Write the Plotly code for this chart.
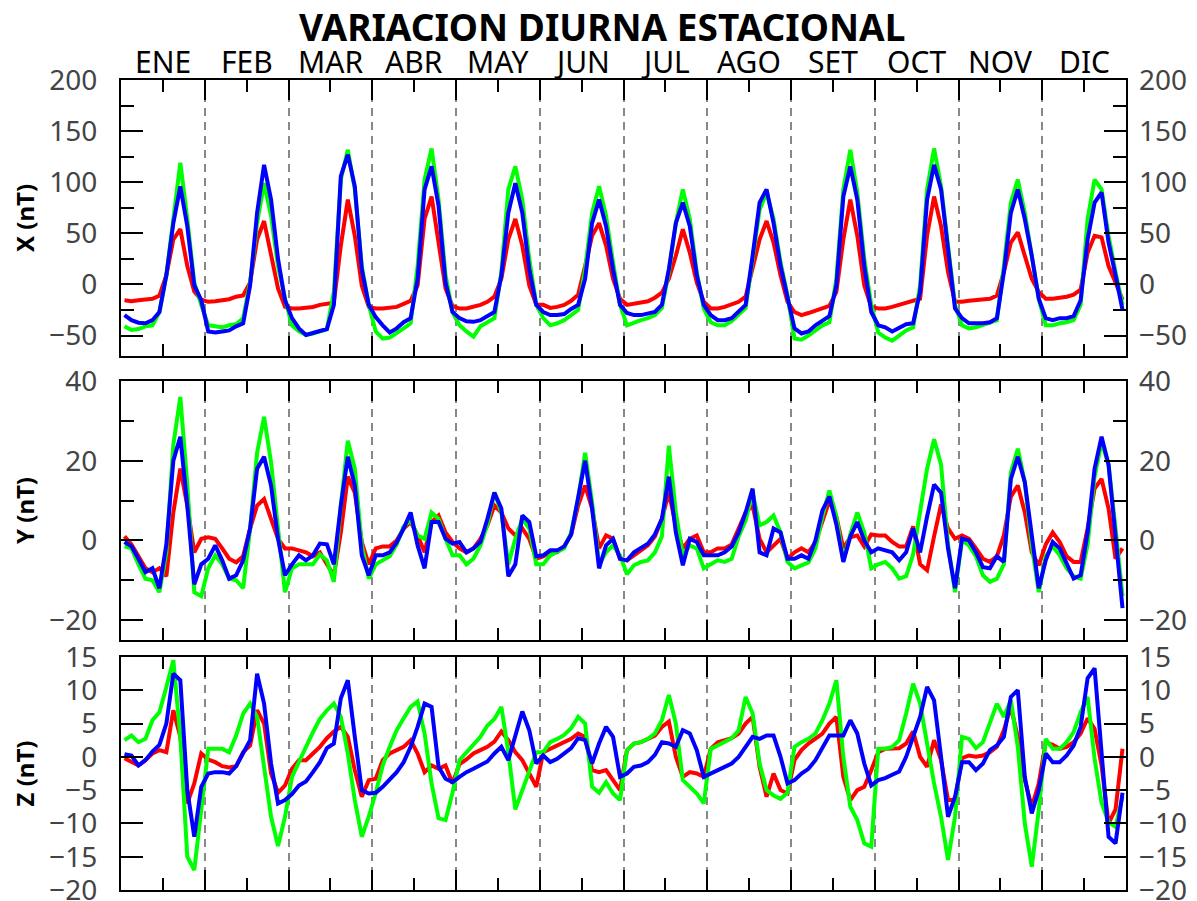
import plotly.graph_objects as go

MONTHS = ["ENE", "FEB", "MAR", "ABR", "MAY", "JUN", "JUL", "AGO", "SET", "OCT", "NOV", "DIC"]
HOURS = list(range(1, 24, 2))  # odd UT hours sampled within each month

# ---------------- X component (nT), 12 values per month ----------------
X_RED = [
    -15.5, -16.5, -15.5, -14.6, -14, -11, 9, 44, 54, 18, -7, -15,
    -17, -16.5, -15.5, -14.5, -12, -10.7, 2, 44, 62, 28, -4, -22,
    -23.6, -23.6, -23, -22, -20, -19, -18, 38, 83, 47.6, -1, -22,
    -23.6, -23.6, -23, -22, -19, -16, -1, 64, 86, 44, -4, -21,
    -23.6, -23.6, -22, -20, -17, -12, 5.5, 44, 64, 38, -1, -20,
    -20, -23, -22, -20, -16, -10, 18, 47.6, 60, 38, 5.5, -14,
    -20, -18.5, -17, -16.5, -13, -8, 5.5, 28, 54, 31, 2, -17,
    -23.6, -23.6, -22, -20, -17, -12, 15, 44, 62, 41, 9, -17,
    -27, -30, -28, -26, -24, -21, -7.4, 44, 83, 47.6, -1, -22,
    -23.6, -23.6, -22, -20, -18, -17, -14, 47.6, 86, 57, 12, -17,
    -17, -16, -15.5, -15, -14, -11, 12, 41, 51, 28, 5.5, -7.4,
    -14, -14, -13, -12, -10, -5, 31, 47.6, 46, 18, 2, -15,
]
X_GREEN = [
    -41, -44.6, -43.7, -41, -40, -27, 9, 64, 119, 64, 2, -20,
    -40, -41, -42, -40, -39, -33, 2, 60, 99, 67, 18, -14,
    -40, -46, -49.5, -48, -45.6, -43.7, -7.4, 102.6, 131.7, 93, 18, -20,
    -46, -53, -52, -48, -43, -38, 18, 102.6, 133, 83, 9, -27,
    -40, -46, -51, -41, -37, -33, 12, 93, 115.5, 83, 25, -20,
    -33, -40, -38, -35, -30, -25, 15, 70, 96, 67, 21.7, -20,
    -40, -37, -35, -33, -30, -23, 12, 60, 93, 64, 12, -23.6,
    -37, -40, -40, -36, -30, -23, 25, 73, 90, 64, 21.7, -10.7,
    -53, -54, -50, -45, -40, -37, 5.5, 93, 131.7, 90, 25, -20,
    -47, -52, -55, -50, -45, -42, -1, 93, 133, 96, 38, -20,
    -40, -43, -42, -40, -38, -35, 18, 80, 102.6, 70, 28, -14,
    -40, -40, -38, -37, -35, -20, 64, 102.6, 93, 47.6, 12, -20,
]
X_BLUE = [
    -30, -35, -37.5, -38, -35, -27, 9, 60, 96, 57, -1, -15.5,
    -46, -47, -46, -45, -41, -38, -1, 70, 117, 83, 25, -15.5,
    -33, -43, -49.5, -48, -45.6, -43.7, -20, 106, 127, 96, 15, -20,
    -32, -40, -47, -43, -37, -33, 5.5, 93, 115.5, 77, 2, -27,
    -33, -36, -36.6, -35, -31, -27, 9, 70, 99, 70, 15, -20,
    -27, -30, -30, -29, -24, -20, 5.5, 60, 83, 57, 15, -20,
    -28, -30, -30, -28.5, -27, -20, 15, 60, 80, 57, 9, -20,
    -30, -35, -35, -33, -27, -20, 28, 80, 93, 60, 18, -14,
    -43, -48, -46, -40, -35, -31, -1, 86, 115.5, 83, 18, -27,
    -40, -42, -46, -42, -39, -38, -7, 83, 117, 93, 31, -23.6,
    -33, -38, -38, -38, -37, -33, 12, 70, 93, 64, 28, -14,
    -33, -35, -33, -33, -31, -15.5, 44, 80, 90, 41, 9, -25,
]

# ---------------- Y component (nT) ----------------
Y_RED = [
    1, -1, -4, -7, -8, -7, -9, 7, 18, 8.75, -3, 0.4,
    0.8, 0.4, -2, -4.6, -5.5, -4, 3, 8.75, 10.4, 5.4, 0.4, -2,
    -2, -2.5, -3, -4, -3, -6, -8.75, 2, 16, 12, -0.4, -6,
    -2, -1.5, -1.5, 0, 3, 4.6, 1.25, -3, 4.6, 6.25, 2, -0.4,
    -2, -3, -2, 0.4, 3.75, 8.75, 7, 3, 1.25, 3, 0.4, -4.6,
    -4, -3, -3, -1.5, 1.5, 8.75, 13.75, 8, -2, 1.25, 0.4, -4.6,
    -5, -3.75, -2.5, -1.25, 1, 5.4, 12, 3.75, -2, 0.4, 1.25, -3,
    -3, -2, -2, -1, 3, 7, 8.75, 0.4, -3, -1.25, 0.4, -4.6,
    -3, -2, -3, -0.5, 5, 10, 6, -2, 0.8, 1.25, -1.5, 1.5,
    1.25, 1.25, -0.4, -1.5, -1.5, 3.5, -6, -7.5, 1, 9, 3, 0.4,
    1.25, 0.4, -2, -4.6, -5.4, -4, 1.25, 11, 13.75, 7, -3, -6.25,
    -1, 2, -0.4, -4, -5.4, -5.4, 3, 13, 15.4, 8, -4.6, -2,
]
Y_GREEN = [
    -1.5, -2, -6, -9.6, -10, -13, -3, 24, 36, 14, -13, -14,
    -7, -3.75, -6, -9.6, -10, -12, 3, 22, 31, 19.6, 3, -13,
    -7, -6, -6, -6, -3.5, -5, -10.4, 8.75, 25, 18, -1.25, -9.6,
    -6, -5, -4, -1, 3.5, 5, 1.25, 0.4, 7, 5.4, 0.4, -3.75,
    -3.75, -6, -4.6, -1.25, 4, 12, 7, -6, 0.4, 5.4, 3, -6,
    -6, -3.75, -3, -2, 2, 10.4, 22, 9.6, -6, -3, -1.25, -3.75,
    -8.5, -6.25, -5.4, -5, -3, 1, 23.75, 7, -3.75, -1.25, -2, -7,
    -6, -5, -5.4, -4.6, 1, 5, 12, 3.75, 4.6, 6.25, 2, -5.4,
    -7, -6.25, -5.5, -2, 6, 12.5, 6, -5, 1.5, 7, 2, -7,
    -6, -5.4, -7, -9.6, -9, -3.5, 7, 18, 25.4, 19, -1, -13,
    0, -1.25, -4, -8.75, -10.4, -9.6, -6, 17, 23, 14.6, -1.25, -13,
    -4, -1.5, -3.75, -7, -9, -9.6, -1, 16, 24.6, 19, 3, -14,
]
Y_BLUE = [
    -0.4, -1.5, -4.6, -8, -7, -12, -1, 20, 26, 8.75, -11, -6,
    -4.6, -1.25, -5, -9.6, -8.75, -5, 3, 18, 21, 13.75, 0.4, -8.75,
    -6, -3.75, -5, -3.75, -0.8, -1, -6, 8.75, 21, 13.75, -3.75, -8.75,
    -3.75, -3.75, -3, -0.5, 3, 7, -1.25, -7, 4.6, 4.6, 0.4, -0.8,
    -0.4, -3, -2, -0.4, 5.4, 12, 8, -9, -6, 6.25, 4.6, -4,
    -3.75, -2.5, -2.5, -1.5, 1.5, 10.4, 20, 8, -7, -1.25, 0.4, -4.6,
    -5, -3, -2, -0.8, 1.5, 5.4, 16, 2, -6.25, 0.4, -0.4, -3.75,
    -3.75, -3.75, -3, -1.5, 2, 7, 13, -3, -3.75, 3, 2, -4.6,
    -4.6, -3.75, -4.6, 0, 7.5, 11, 4, -5.4, 1, 4.6, 0, -3,
    -2, -2.5, -3, -5, -3, 3, -3, 6, 14, 12, -2, -12,
    0.4, 0, -3, -6.7, -7, -4, -5.4, 15.4, 21, 14.6, 0.4, -12,
    -5, -0.4, -2, -6, -9.6, -8.75, 2, 18, 26, 19, 2, -17,
]

# ---------------- Z component (nT) ----------------
Z_RED = [
    -0.2, -0.8, -1.3, -0.5, 0.5, 1, 0.7, 7, 3, -7, -4, 0.5,
    -0.4, -0.8, -1.4, -1.6, -1.4, 0.7, 1.7, 7, 5, -2.5, -5.4, -4.3,
    -1.8, -0.5, -0.5, 0.5, 1.5, 2.8, 3.8, 4.5, 3, -2, -6, -3.5,
    -3.3, -0.5, 0.5, 1, 1.5, 2.5, 0.5, -2.3, -1.3, -1.8, -1.3, -4,
    -1.1, -0.4, 0.5, 1, 1.5, 2.3, 3.8, 2.5, 0.7, -0.5, -2.5, -4.5,
    0.7, 1.2, 1.7, 2.2, 2.7, 3.5, 3, -2, -2.3, -2, -3.5, -5,
    1, 2, 2.2, 2.7, 3.2, 4.5, 5.3, 0, -3, -2.3, -2.5, -3,
    1.2, 2.2, 2.5, 2.8, 3.5, 5, 6, -1.5, -6, -2.5, -5, -5.5,
    -0.5, 1, 2, 2.7, 3.5, 5, 6, -3, -6.5, -5, -4.5, -2,
    0.7, 1.2, 1.2, 1.3, 2, 3.8, 0, -1.5, 2.5, -0.5, -6.5, -6.5,
    -0.2, 0.2, 0, 0.2, 0.7, 1.5, 4, 7.5, 3, -3.5, -7.5, -4,
    2.2, 1.8, 1.2, 1.5, 2.2, 3.5, 5.8, 4.2, -1.3, -10, -7.9, 1.2,
]
Z_GREEN = [
    2.5, 3.2, 2.2, 2.7, 5.5, 6.7, 10.5, 14.5, 3, -15, -17, -8,
    1.2, 1.2, 1.2, 0.7, 3.2, 6.5, 8, 6, -1, -9, -13.4, -9,
    -3, -0.7, 1.5, 3.7, 5.7, 7, 8, 6, 0.5, -6.5, -12, -9,
    -5.4, -1.3, 1.5, 4, 5.8, 7.5, 8.3, 3.5, -4, -9.2, -9.5, -5.4,
    -0.5, 0.7, 1.7, 3, 4.7, 5.7, 7.5, 0.7, -7.9, -5, -2.3, 0.7,
    0.7, 2.2, 2.7, 3.3, 4.3, 6, 5, -4.5, -5.4, -3.8, -5.5, -6.5,
    1, 2, 2.2, 2.7, 3.5, 5.5, 9.3, 5, -3.5, -4.5, -5.5, -7,
    1.2, 1.7, 2.2, 2.8, 4, 9, 6.5, -1, -5, -5.8, -6.3, -5.4,
    1.5, 2.2, 2.7, 3.5, 5.5, 8, 11.5, 0, -7.5, -9.5, -13, -13.5,
    1.2, 1.2, 1.5, 2.5, 6.5, 11, 8, 2, -4, -9, -15.5, -9,
    3, 2.7, 1.3, 2.2, 5, 8, 6, 8.5, 1.5, -10, -16.5, -8,
    2.7, 1.2, 1.2, 2.2, 3.7, 6.7, 9, -0.3, -6.9, -9.8, -10.5, -6,
]
Z_BLUE = [
    0.4, 0.2, -1.3, -0.5, 0.8, 1.8, 5, 12.5, 11.5, -5, -12, -4.5,
    -2.5, -2.3, -2.3, -2.5, -1.4, 0.7, 2.5, 12.5, 8, -1, -7, -6.5,
    -5.6, -4.3, -3.7, -2.3, -0.8, 1.3, 2, 8.8, 11.5, 3, -5, -5.5,
    -5.4, -4.5, -3.3, -2.3, -0.8, 1.5, 4.5, 8, 7.5, -1.5, -3.3, -3.8,
    -3, -2.3, -1.8, -1.3, -0.7, 0.5, 1.5, -0.5, 3, 6.8, 4, -1,
    0.2, -0.8, -0.3, 0.5, 1.3, 2.8, 2.5, -1, 2, 4.5, 3, -3,
    -2.5, -1.5, -1.3, -0.8, 0.3, 2.2, 2, 1.5, 4, 3.5, 1, -3,
    -2.5, -2, -1.5, -1, 0, 1.5, 3, 2.7, 3.2, 3.2, 0, -4,
    -3.5, -2.5, -1.8, -0.5, 1.3, 3.2, 3.2, 3.2, 5.5, 3.5, -1, -4.3,
    -3.5, -3.2, -2.7, -2.2, 0, 3, 6, 10.5, 8.5, 0, -9, -6,
    -0.8, -0.8, -2, -1, 1, 1.7, 3, 9, 10, -3, -8.5, -5,
    0.5, -0.8, -0.8, 0.2, 1.7, 4.5, 11.8, 13.3, 0.7, -12, -13, -5.4,
]

# hour axis: month m occupies [24m, 24m+24]
T = [24 * m + h for m in range(12) for h in HOURS]

PANELS = [
    dict(name="X (nT)", red=X_RED, green=X_GREEN, blue=X_BLUE, rng=[-70, 200],
         dtick=50, minor=25, dom=[0.6593, 1.0]),
    dict(name="Y (nT)", red=Y_RED, green=Y_GREEN, blue=Y_BLUE, rng=[-25, 40],
         dtick=20, minor=10, dom=[0.3086, 0.6284]),
    dict(name="Z (nT)", red=Z_RED, green=Z_GREEN, blue=Z_BLUE, rng=[-20, 15],
         dtick=5, minor=None, dom=[0.0, 0.2877]),
]

FONT = "Noto Sans"
TICKFONT = dict(family=FONT, size=28, color="#444444")
LW = 4

fig = go.Figure()
# the page body has an 8px default margin, so margins are offset by 8px
layout = dict(
    width=1197, height=901,
    margin=dict(l=113, r=79, t=72, b=19, autoexpand=False),
    paper_bgcolor="white", plot_bgcolor="white",
    showlegend=False,
    font=dict(family=FONT, color="black"),
)

boundaries = [24 * m for m in range(13)]
mids = [24 * m + 12 for m in range(12)]

for i, p in enumerate(PANELS):
    xa = "x" if i == 0 else f"x{i+1}"
    ya_left = "y" if i == 0 else f"y{i+1}"
    ya_right = f"y{i+4}"
    fig.add_trace(go.Scatter(x=T, y=p["red"], mode="lines", xaxis=xa, yaxis=ya_left,
                             line=dict(color="#ff0000", width=LW), hoverinfo="skip"))
    fig.add_trace(go.Scatter(x=T, y=p["green"], mode="lines", xaxis=xa, yaxis=ya_left,
                             line=dict(color="#00ff00", width=LW), hoverinfo="skip"))
    fig.add_trace(go.Scatter(x=T, y=p["blue"], mode="lines", xaxis=xa, yaxis=ya_right,
                             line=dict(color="#0000ff", width=LW), hoverinfo="skip"))

    xkey = "xaxis" if i == 0 else f"xaxis{i+1}"
    ykey = "yaxis" if i == 0 else f"yaxis{i+1}"
    rkey = f"yaxis{i+4}"
    layout[xkey] = dict(
        domain=[0, 1], anchor=ya_left, range=[0, 288], automargin=False,
        tickmode="array", tickvals=boundaries, showticklabels=False,
        ticks="inside", ticklen=20, tickwidth=2, tickcolor="black",
        showline=True, linewidth=2, linecolor="black", mirror="ticks",
        showgrid=True, gridcolor="#888888", gridwidth=1.5, griddash="8px,6px",
        minor=dict(tickmode="array", tickvals=mids, ticks="inside", ticklen=12,
                   tickwidth=2, tickcolor="black", showgrid=False),
        zeroline=False, fixedrange=True,
    )
    if i > 0:
        layout[xkey]["matches"] = "x"
    tv = list(range(int(p["rng"][0] // p["dtick"] * p["dtick"]), p["rng"][1] + 1, p["dtick"]))
    tv = [v for v in tv if p["rng"][0] <= v <= p["rng"][1]]
    common = dict(
        range=p["rng"], tickmode="array", tickvals=tv, automargin=False,
        ticks="inside", ticklen=22, tickwidth=2, tickcolor="black",
        tickfont=TICKFONT, showgrid=False, zeroline=False,
    )
    if p["minor"]:
        mv = [v for v in range(p["rng"][0], p["rng"][1] + 1) if v % p["minor"] == 0 and v % p["dtick"] != 0]
        common["minor"] = dict(tickmode="array", tickvals=mv, ticks="inside", ticklen=13,
                               tickwidth=2, tickcolor="black", showgrid=False)
    layout[ykey] = dict(
        domain=p["dom"], anchor=xa, side="left",
        showline=True, linewidth=2, linecolor="black", mirror=True,
        ticklabelstandoff=16,
        title=dict(text=f"<b>{p['name']}</b>", font=dict(family=FONT, size=24, color="black"),
                   standoff=10),
        **common,
    )
    layout[rkey] = dict(
        overlaying=ya_left, anchor=xa, side="right", showline=False,
        ticklabelstandoff=12,
        **common,
    )

annotations = [
    dict(text="<b>VARIACION DIURNA ESTACIONAL</b>", x=0.5, xref="paper", xanchor="center",
         y=1 + (72 - 18) / 810, yref="paper", yanchor="middle", showarrow=False,
         xshift=-22, font=dict(family=FONT, size=37, color="black")),
]
for m, name in enumerate(MONTHS):
    annotations.append(dict(text=name, x=24 * m + 12, xref="x", y=1.0, yref="paper",
                            yanchor="bottom", yshift=-4, showarrow=False,
                            font=dict(family=FONT, size=30, color="black")))
layout["annotations"] = annotations

fig.update_layout(**layout)
fig.write_html("out.html")
